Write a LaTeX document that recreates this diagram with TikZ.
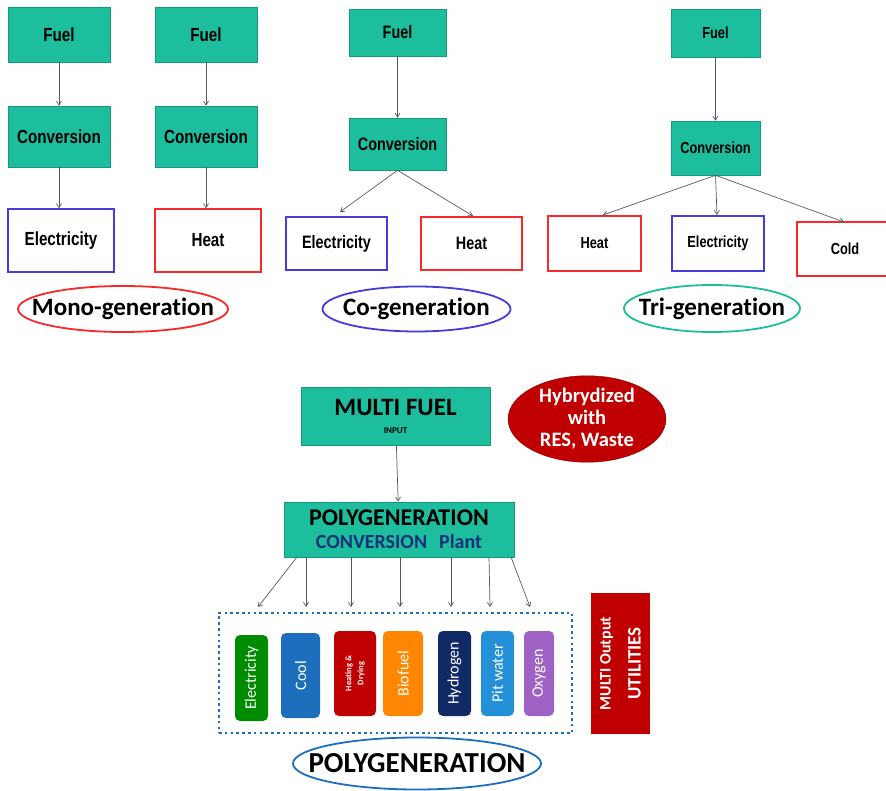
\documentclass[tikz,border=0pt]{standalone}
\usepackage{fontspec}
\setmainfont{Carlito}[Ligatures=NoCommon]
\newfontfamily\narrowf[FakeStretch=0.8]{Liberation Sans}
\usetikzlibrary{arrows.meta,shapes.geometric}
\definecolor{teal1}{RGB}{28,190,158}
\definecolor{elblue}{RGB}{70,60,220}
\definecolor{htred}{RGB}{250,40,40}
\definecolor{darkred}{RGB}{192,0,0}
\definecolor{polyblue}{RGB}{30,110,190}
\definecolor{navy1}{RGB}{20,50,120}
\tikzset{
  tealbox/.style={draw=teal1!80!black, line width=0.6, fill=teal1, inner sep=0pt,
    font=\narrowf\bfseries\fontsize{#1}{#1}\selectfont},
  tealbox/.default=19,
  outel/.style={draw=elblue, line width=1.4, fill=white, inner sep=0pt,
    font=\narrowf\bfseries\fontsize{#1}{#1}\selectfont},
  outel/.default=19,
  outht/.style={draw=htred, line width=1.4, fill=white, inner sep=0pt,
    font=\narrowf\bfseries\fontsize{#1}{#1}\selectfont},
  outht/.default=19,
  tagtext/.style={inner sep=0pt, font=\bfseries\fontsize{25}{28}\selectfont},
  tagring/.style={line width=1.8},
  flow/.style={draw=black!65, line width=0.7, -{Straight Barb[length=4pt,width=5pt]}},
  pill/.style={rotate=90, rounded corners=5, inner sep=0pt, text=white,
    font=\fontsize{16}{18}\selectfont},
}
\begin{document}
\begin{tikzpicture}[x=1pt,y=-1pt]
\useasboundingbox (0,0) rectangle (886,791);

% ---- mono-generation ----
\node[tealbox=19, minimum width=102, minimum height=55] (mf1) at (59,34.5) {Fuel};
\node[tealbox=19, minimum width=102, minimum height=55] (mf2) at (206,34.5) {Fuel};
\node[tealbox=19, minimum width=102, minimum height=61] (mc1) at (59,136.5) {Conversion};
\node[tealbox=19, minimum width=102, minimum height=61] (mc2) at (206,136.5) {Conversion};
\node[outel=19, minimum width=106, minimum height=63] (mo1) at (61,240.5) {Electricity};
\node[outht=19, minimum width=106, minimum height=63] (mo2) at (208,240.5) {Heat};
\draw[flow] (mf1) -- (mc1);
\draw[flow] (mf2) -- (mc2);
\draw[flow] (mc1) -- (mc1 |- mo1.north);
\draw[flow] (mc2) -- (mc2 |- mo2.north);
\node[tagtext] (mono) at (123,309) {Mono-generation};
\draw[tagring, htred] (mono.center) ellipse [x radius=105, y radius=23];

% ---- co-generation ----
\node[tealbox=18, minimum width=97, minimum height=47] (cf) at (397.5,32.5) {Fuel};
\node[tealbox=18, minimum width=97, minimum height=52] (cc) at (397.5,144) {Conversion};
\node[outel=18, minimum width=101, minimum height=53] (co1) at (336.5,243.5) {Electricity};
\node[outht=18, minimum width=101, minimum height=53] (co2) at (471.5,243.5) {Heat};
\draw[flow] (cf) -- (cc);
\draw[flow] (cc.south) -- (340,212);
\draw[flow] (cc.south) -- (473,216);
\node[tagtext] (cog) at (416.5,309) {Co-generation};
\draw[tagring, elblue] (cog.center) ellipse [x radius=94, y radius=22.5];

% ---- tri-generation ----
\node[tealbox=16, minimum width=89, minimum height=48] (tf) at (715.5,33) {Fuel};
\node[tealbox=16, minimum width=89, minimum height=54] (tc) at (715.5,148) {Conversion};
\node[outht=16, minimum width=93, minimum height=55] (to1) at (594.5,243.5) {Heat};
\node[outel=16, minimum width=92, minimum height=55] (to2) at (718,243.5) {Electricity};
\node[outht=16, minimum width=96, minimum height=54] (to3) at (845,249) {Cold};
\draw[flow] (tf) -- (tc);
\draw[flow] (tc.south) -- (603,215);
\draw[flow] (tc.south) -- (717,215);
\draw[flow] (tc.south) -- (844,222);
\node[tagtext] (trig) at (712,308.5) {Tri-generation};
\draw[tagring, teal1] (trig.center) ellipse [x radius=88, y radius=23.5];

% ---- polygeneration ----
\node[tealbox, font=\bfseries, minimum width=189, minimum height=58, align=center] (mfuel) at (395.5,416)
  {\fontsize{25}{25}\selectfont MULTI FUEL\\[6pt]\fontsize{9}{9}\selectfont INPUT};
\node[ellipse, fill=darkred, draw=darkred!70!black, minimum width=158, minimum height=72, inner sep=0pt,
  text=white, align=center, font=\bfseries\fontsize{20.5}{22}\selectfont] (hyb) at (587,419)
  {Hybrydized\\with\\RES, Waste};
\node[tealbox, font=\bfseries, minimum width=230, minimum height=55, align=center] (poly) at (399,529.5)
  {\fontsize{24}{24}\selectfont POLYGENERATION\\[8pt]
   \fontsize{20}{20}\selectfont\color{navy1}CONVERSION\hspace{0.6em}Plant};
\draw[flow] (mfuel) -- (poly);

\foreach \i/\sx/\ex in {1/297/258, 2/306/306, 3/351/351, 4/400/400, 5/451/451, 6/489/490, 7/511/530}{
  \coordinate (s\i) at (\sx,557);
  \coordinate (t\i) at (\ex,607);
  \draw[flow] (s\i) -- (t\i);
}

\node[draw=polyblue, line width=2.6, dash pattern=on 2.6 off 3.2, minimum width=353, minimum height=120,
  inner sep=0pt] (outs) at (395.5,673) {};

\node[pill, fill=green!55!black, minimum width=86, minimum height=33] (pe) at (251.5,678) {Electricity};
\node[pill, fill=polyblue, minimum width=85, minimum height=39] (pc) at (300.5,675.5) {Cool};
\node[pill, fill=darkred, minimum width=85, minimum height=42, align=center,
  font=\bfseries\fontsize{8.5}{12}\selectfont] (ph) at (355,673.5) {Heating \&\\Drying};
\node[pill, fill=orange!95!yellow, minimum width=85, minimum height=40] (pb) at (403,673.5) {Biofuel};
\node[pill, fill=navy1!85!black, minimum width=85, minimum height=33] (py) at (454.5,673.5) {Hydrogen};
\node[pill, fill=cyan!70!blue!90, minimum width=85, minimum height=33] (pw) at (497.5,673.5) {Pit water};
\node[pill, fill=violet!55!white!85!blue, minimum width=85, minimum height=30] (po) at (539,673.5) {Oxygen};

\node[rotate=90, fill=darkred, minimum width=141, minimum height=59, inner sep=0pt, text=white,
  align=center, font=\bfseries] (util) at (620.5,663.5)
  {\fontsize{16}{16}\selectfont MULTI Output\\[14pt]\fontsize{19}{19}\selectfont UTILITIES};

\node[tagtext, font=\bfseries\fontsize{29}{30}\selectfont] (polytag) at (417,763.5) {POLYGENERATION};
\draw[tagring, polyblue] (polytag.center) ellipse [x radius=124, y radius=26];
\end{tikzpicture}
\end{document}
